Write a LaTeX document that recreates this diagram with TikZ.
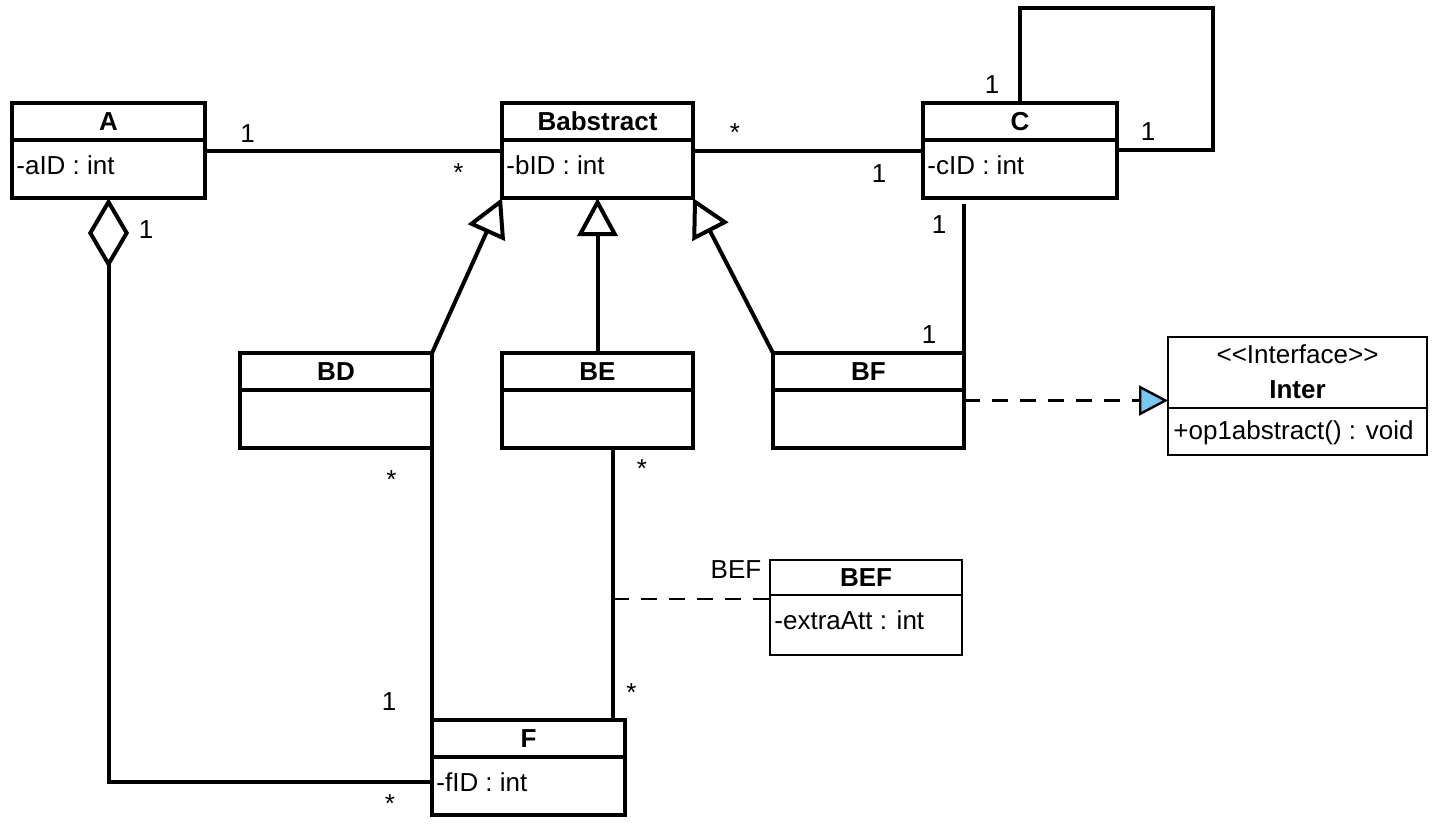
\documentclass[tikz,border=0pt]{standalone}
\usepackage{fontspec}
\setmainfont{Liberation Sans}
\usetikzlibrary{arrows.meta,fit}
\definecolor{tipblue}{RGB}{120,200,240}
\newcommand\umlfont{\fontsize{13}{15}\selectfont}
\tikzset{
 cls/.style={draw, line width=2pt, inner sep=0pt, outer sep=0pt},
 clsthin/.style={draw, line width=1pt, inner sep=0pt, outer sep=0pt},
 ttl/.style={font={\umlfont\bfseries}, anchor=base, inner sep=0pt},
 att/.style={font=\umlfont, anchor=base west, inner sep=0pt},
 mult/.style={font=\umlfont, anchor=base, inner sep=0pt},
 assoc/.style={line width=2pt},
 gen/.style={line width=2pt, -{Triangle[open, length=19pt, width=20pt]}},
 agg/.style={line width=2pt, {Diamond[open, length=35pt, width=20.5pt]}-},
 realiz/.style={line width=1.2pt, dash pattern=on 8pt off 6pt, -{Triangle[length=14.5pt,width=15pt,fill=tipblue]}},
 assocdash/.style={line width=1.2pt, dash pattern=on 8pt off 6pt},
}
% #1 style, #2 name, #3 x1, #4 y1, #5 x2, #6 y2, #7 ydiv, #8 title, #9 attribute
\newcommand\umlclass[9]{%
  \node[#1, fit={(#3,#4)(#5,#6)}] (#2) {};
  \draw[#1] (#3,#7) -- (#5,#7);
  \node[ttl] (#2-t) at ({(#3+#5)/2},{(#4+#7)/2+9}) {#8};
  \node[att] (#2-a) at (#3+4,#7+34) {#9};
}
\begin{document}
\begin{tikzpicture}[x=0.5pt,y=-0.5pt]
\useasboundingbox (0,0) rectangle (1444,832);
\fill[white] (0,0) rectangle (1444,832);

\umlclass{cls}{A}{12}{103}{205}{198}{140}{A}{-aID : int}
\umlclass{cls}{Babstract}{502}{103}{693}{198}{140}{Babstract}{-bID : int}
\umlclass{cls}{C}{923}{103}{1117}{198}{140}{C}{-cID : int}
\umlclass{cls}{BD}{240}{353}{432}{448}{390}{BD}{}
\umlclass{cls}{BE}{502}{353}{693}{448}{390}{BE}{}
\umlclass{cls}{BF}{773}{353}{964}{448}{390}{BF}{}
\umlclass{cls}{F}{432}{720}{625}{815}{757}{F}{-fID : int}
\umlclass{clsthin}{BEF}{770}{560}{962}{655}{595}{BEF}{-extraAtt : int}

% Interface box
\node[clsthin, fit={(1168,337)(1427,455)}] (Inter) {};
\draw[clsthin] (1168,408) -- (1427,408);
\node[mult] (Inter-s) at (1297.5,363) {{<}{<}Interface{>}{>}};
\node[ttl] (Inter-t) at (1297.5,398) {Inter};
\node[att] (Inter-a) at (1173,439) {+op1abstract() : void};

% coordinates
\coordinate (loopTop) at (1020,8);
\coordinate (loopRight) at (1213,150);
\coordinate (befx) at (613,599);
\coordinate (aggy) at (0,782);

% associations
\draw[assoc] (A.east) -- (Babstract.west);
\draw[assoc] (Babstract.east) -- (C.west);
\draw[assoc] (C.north -| loopTop) |- (loopTop -| loopRight) |- (C.east |- loopRight);
\draw[assoc] ([yshift=-3pt]C.south -| BF.north east) -- (BF.north east);
\draw[assoc] (BD.south east) -- (F.north west);
\draw[assoc] (BE.south -| befx) -- (F.north -| befx);
\draw[assocdash] (befx) -- (BEF.west |- befx);

% generalizations
\draw[gen] (BD.north east) -- (Babstract.south west);
\draw[gen] (BE.north) -- (Babstract.south -| BE.north);
\draw[gen] (BF.north west) -- (Babstract.south east);

% aggregation
\draw[agg] (A.south) |- (F.west |- aggy);

% realization
\draw[realiz] (BF.east) -- (Inter.west |- BF.east);

% multiplicities
\node[mult] (m1) at (247.5,142) {1};
\node[mult] (m2) at (458.5,181) {*};
\node[mult] (m3) at (735,141.5) {*};
\node[mult] (m4) at (879,182) {1};
\node[mult] (m5) at (992,93) {1};
\node[mult] (m6) at (1148,140) {1};
\node[mult] (m7) at (939,233) {1};
\node[mult] (m8) at (929,343) {1};
\node[mult] (m9) at (146,238) {1};
\node[mult] (m10) at (391.5,488) {*};
\node[mult] (m11) at (642,477) {*};
\node[mult] (m12) at (631.5,701) {*};
\node[mult] (m13) at (389,710) {1};
\node[mult] (m14) at (390,812) {*};
\node[mult] (befl) at (736,578) {BEF};
\end{tikzpicture}
\end{document}
